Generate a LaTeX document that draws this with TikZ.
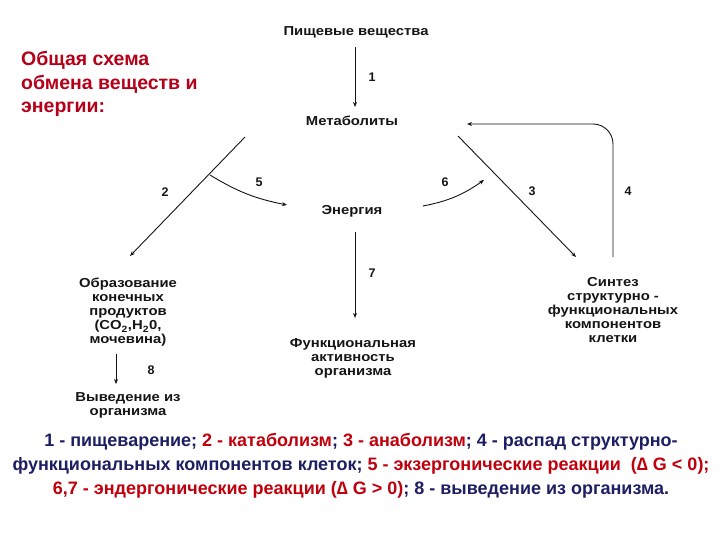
\documentclass[tikz,border=0pt]{standalone}
\usepackage{fontspec}
\setmainfont{Liberation Sans}
\newfontfamily\widefont[FakeStretch=1.14]{Liberation Sans}
\usetikzlibrary{arrows.meta}
\definecolor{tred}{HTML}{B5001A}
\definecolor{lred}{HTML}{C0000C}
\definecolor{lblue}{HTML}{1E1E62}
\definecolor{ink}{HTML}{151515}
\begin{document}
\begin{tikzpicture}[x=1pt,y=-1pt,
  lbl/.style={font=\widefont\fontsize{13}{14}\selectfont\bfseries, text=ink, align=center, inner sep=0pt},
  num/.style={font=\fontsize{12.5}{14}\selectfont\bfseries, text=ink, inner sep=0pt},
  arr/.style={draw=ink, line width=0.9pt, -{Stealth[length=5pt,width=4pt]}},
  ln/.style={draw=ink, line width=0.9pt}]
\useasboundingbox[fill=white] (0,0) rectangle (720,540);

% title
\node[anchor=west, align=left, text=tred, inner sep=0pt,
      font=\fontsize{19.5}{23.5}\selectfont\bfseries] (title) at (21,84)
  {Общая схема\\обмена веществ и\\энергии:};

% main nodes
\node[lbl] (food) at (356,32) {Пищевые вещества};
\node[lbl] (metab) at (352,121) {Метаболиты};
\node[lbl] (energy) at (352,211) {Энергия};
\node[lbl] (func) at (353,358) {Функциональная\\активность\\организма};
\node[lbl] (endp) at (128,312.5) {Образование\\конечных\\продуктов\\(CO\textsubscript{2},H\textsubscript{2}0,\\мочевина)};
\node[lbl] (excr) at (128,405) {Выведение из\\организма};
\node[lbl] (synth) at (613,310) {Синтез\\структурно -\\функциональных\\компонентов\\клетки};

% coordinates
\coordinate (a1s) at (355,47);
\coordinate (a1e) at (355,107);
\coordinate (a2s) at (245,137);
\coordinate (a2e) at (130,256);
\coordinate (a5s) at (210,175);
\coordinate (a5e) at (287,205);
\coordinate (a3s) at (458,136);
\coordinate (a3e) at (576,257);
\coordinate (a6s) at (423,206);
\coordinate (a6e) at (484,180);
\coordinate (a4s) at (613,257);
\coordinate (a4e) at (467,124);
\coordinate (a7s) at (355,232);
\coordinate (a7e) at (355,318);
\coordinate (a8s) at (116,354);
\coordinate (a8e) at (116,384);

% connectors
\draw[arr] (a1s) -- (a1e);
\draw[arr] (a2s) -- (a2e);
\draw[arr] (a5s) to[bend right=10] (a5e);
\draw[arr] (a3s) -- (a3e);
\draw[arr] (a6s) to[bend right=12] (a6e);
\draw[arr, rounded corners=20pt] (a4s) |- (a4e);
\draw[arr] (a7s) -- (a7e);
\draw[arr] (a8s) -- (a8e);

% numbers
\node[num] (n1) at (372,77) {1};
\node[num] (n2) at (165,192) {2};
\node[num] (n5) at (259,182) {5};
\node[num] (n6) at (445,182) {6};
\node[num] (n3) at (532,191) {3};
\node[num] (n4) at (628,191) {4};
\node[num] (n7) at (372,273) {7};
\node[num] (n8) at (151,370) {8};

% legend
\node[align=center, inner sep=0pt, font=\fontsize{18}{24}\selectfont\bfseries, text=lblue] (legend) at (361,466)
  {1 - пищеварение; \textcolor{lred}{2 - катаболизм}; \textcolor{lred}{3 - анаболизм}; 4 - распад структурно-\\
   функциональных компонентов клеток; \textcolor{lred}{5 - экзергонические реакции \ (∆ G < 0);}\\
   \textcolor{lred}{6,7 - эндергонические реакции (∆ G > 0)}; 8 - выведение из организма.};
\end{tikzpicture}
\end{document}
